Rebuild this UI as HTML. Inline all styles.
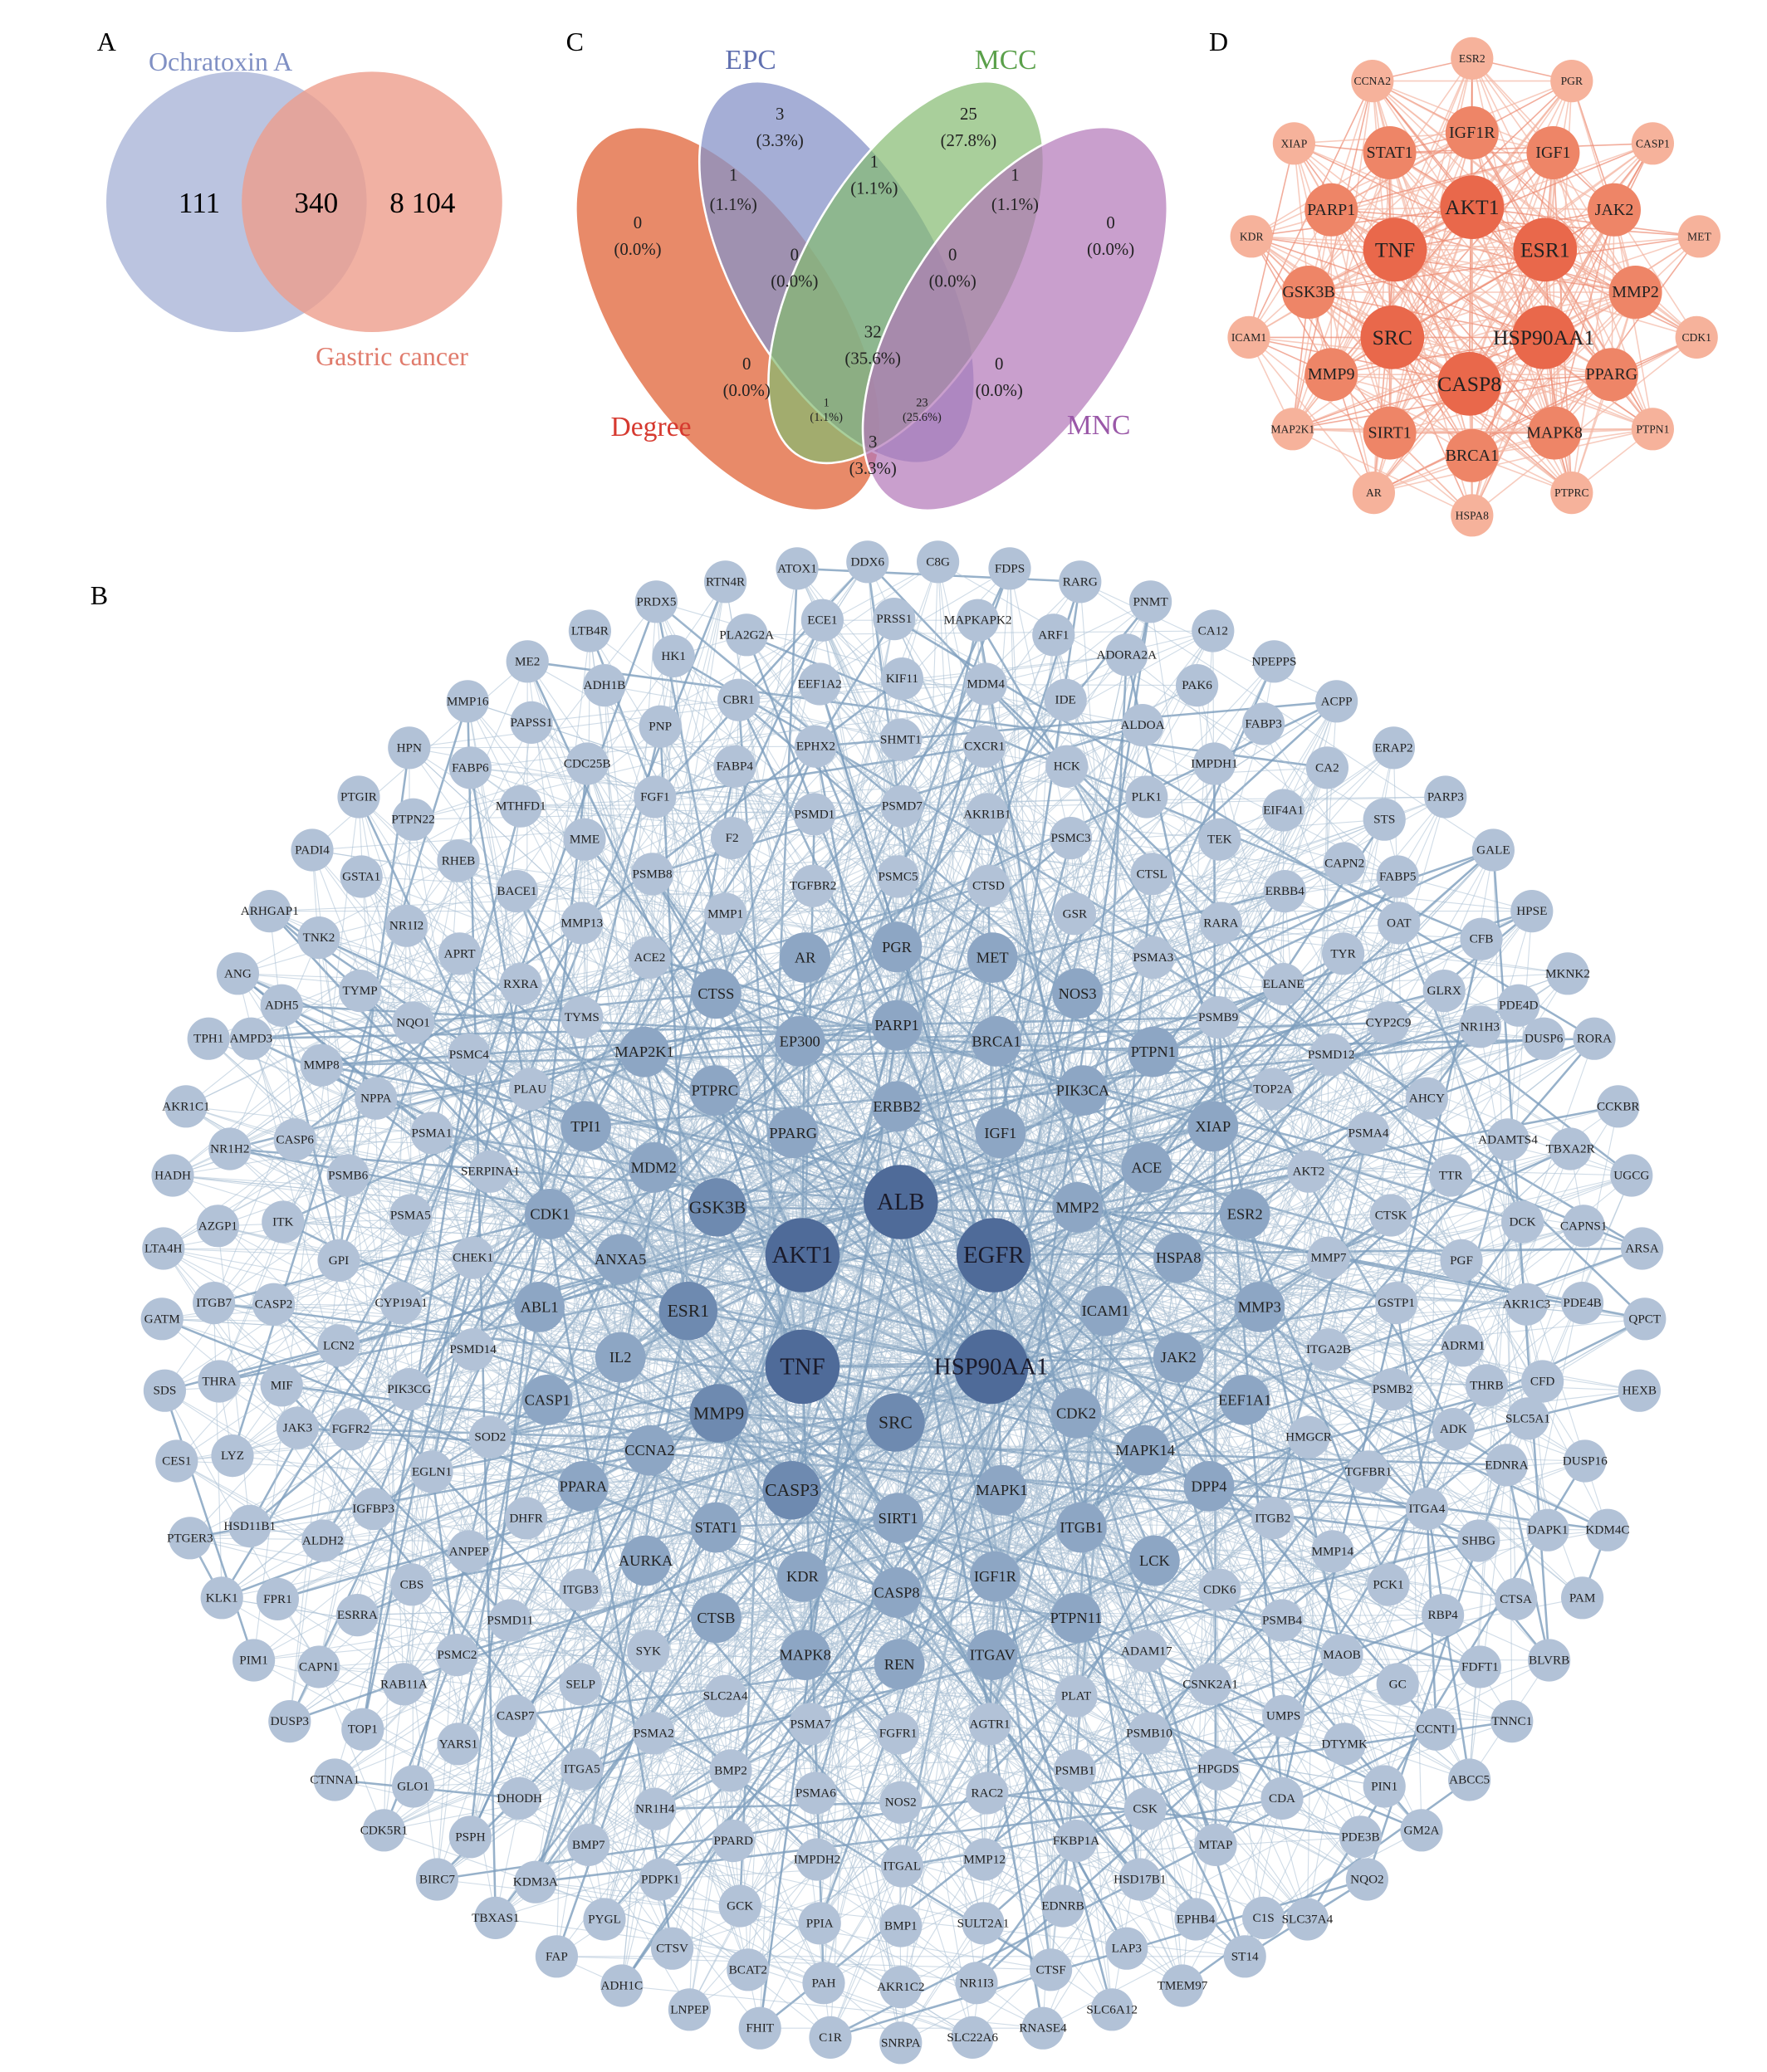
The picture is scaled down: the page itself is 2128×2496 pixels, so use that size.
<!DOCTYPE html>
<html><head><meta charset="utf-8"><style>
html,body{margin:0;padding:0;background:#fff;}
svg{display:block;font-family:"Liberation Serif",serif;}
#labels text,#dlabels text{text-anchor:middle;dominant-baseline:central;fill:#222;}
</style></head><body>
<svg id="svg" width="2128" height="2496" viewBox="0 0 1330 1560" xmlns="http://www.w3.org/2000/svg">
<rect width="1330" height="1560" fill="#fff"/>
<text x="73" y="38" font-size="20">A</text>
<text x="426" y="38" font-size="20">C</text>
<text x="910" y="38" font-size="20">D</text>
<text x="68" y="455" font-size="20">B</text>

<circle cx="178" cy="152" r="98" fill="#b4bedd" opacity="0.9"/>
<circle cx="280" cy="152" r="98" fill="#ee9e8c" opacity="0.8"/>
<text x="166" y="53" font-size="20" fill="#8090c4" text-anchor="middle">Ochratoxin A</text>
<text x="295" y="275" font-size="20" fill="#e07b6c" text-anchor="middle">Gastric cancer</text>
<text x="150" y="160" font-size="22" text-anchor="middle">111</text>
<text x="238" y="160" font-size="22" text-anchor="middle">340</text>
<text x="318" y="160" font-size="22" text-anchor="middle">8 104</text>

<g stroke="#fff" stroke-width="1.6">
<ellipse cx="548" cy="240" rx="82" ry="165" transform="rotate(-34 548 240)" fill="#e4764f" fill-opacity="0.85"/>
<ellipse cx="630" cy="205" rx="76" ry="160" transform="rotate(-30 630 205)" fill="#8793c8" fill-opacity="0.75"/>
<ellipse cx="682" cy="205" rx="76" ry="160" transform="rotate(30 682 205)" fill="#85bb70" fill-opacity="0.7"/>
<ellipse cx="764" cy="240" rx="82" ry="165" transform="rotate(34 764 240)" fill="#b276b8" fill-opacity="0.7"/>
</g>
<g font-size="13" text-anchor="middle" fill="#222">
<text x="565" y="52" font-size="21" fill="#6070b0">EPC</text>
<text x="757" y="52" font-size="21" fill="#5aa04a">MCC</text>
<text x="490" y="328" font-size="21" fill="#d63a30">Degree</text>
<text x="827" y="327" font-size="21" fill="#9a58a8">MNC</text>
<text x="587" y="90">3</text><text x="587" y="110">(3.3%)</text>
<text x="729" y="90">25</text><text x="729" y="110">(27.8%)</text>
<text x="552" y="136">1</text><text x="552" y="158">(1.1%)</text>
<text x="658" y="126">1</text><text x="658" y="146">(1.1%)</text>
<text x="764" y="136">1</text><text x="764" y="158">(1.1%)</text>
<text x="480" y="172">0</text><text x="480" y="192">(0.0%)</text>
<text x="836" y="172">0</text><text x="836" y="192">(0.0%)</text>
<text x="598" y="196">0</text><text x="598" y="216">(0.0%)</text>
<text x="717" y="196">0</text><text x="717" y="216">(0.0%)</text>
<text x="657" y="254">32</text><text x="657" y="274">(35.6%)</text>
<text x="562" y="278">0</text><text x="562" y="298">(0.0%)</text>
<text x="752" y="278">0</text><text x="752" y="298">(0.0%)</text>
<text x="622" y="306" font-size="9">1</text><text x="622" y="317" font-size="9">(1.1%)</text>
<text x="694" y="306" font-size="9">23</text><text x="694" y="317" font-size="9">(25.6%)</text>
<text x="657" y="337">3</text><text x="657" y="357">(3.3%)</text>
</g>

<g id="dedges"></g>
<g id="dnodes"></g>
<g id="dlabels">
<text x="1108" y="44">ESR2</text><text x="1033" y="61">CCNA2</text><text x="1183" y="61">PGR</text>
<text x="974" y="108">XIAP</text><text x="1108" y="100" class="m">IGF1R</text><text x="1046" y="115" class="m">STAT1</text>
<text x="1169" y="115" class="m">IGF1</text><text x="1244" y="108">CASP1</text><text x="1002" y="158" class="m">PARP1</text>
<text x="1108" y="156" class="b">AKT1</text><text x="1215" y="158" class="m">JAK2</text><text x="942" y="178">KDR</text>
<text x="1050" y="188" class="b">TNF</text><text x="1163" y="188" class="b">ESR1</text><text x="1279" y="178">MET</text>
<text x="985" y="220" class="m">GSK3B</text><text x="1231" y="220" class="m">MMP2</text><text x="940" y="254">ICAM1</text>
<text x="1048" y="254" class="b">SRC</text><text x="1162" y="254" class="b">HSP90AA1</text><text x="1277" y="254">CDK1</text>
<text x="1002" y="282" class="m">MMP9</text><text x="1106" y="289" class="b">CASP8</text><text x="1213" y="282" class="m">PPARG</text>
<text x="973" y="323">MAP2K1</text><text x="1046" y="326" class="m">SIRT1</text><text x="1170" y="326" class="m">MAPK8</text>
<text x="1244" y="323">PTPN1</text><text x="1108" y="343" class="m">BRCA1</text><text x="1034" y="371">AR</text>
<text x="1183" y="371">PTPRC</text><text x="1108" y="388">HSPA8</text>
</g>

<g id="edges"></g>
<g id="nodes"></g>
<g id="labels">
<text x="600" y="428">ATOX1</text><text x="653" y="423">DDX6</text><text x="706" y="423">C8G</text><text x="760" y="428">FDPS</text>
<text x="546" y="438">RTN4R</text><text x="813" y="438">RARG</text><text x="494" y="453">PRDX5</text><text x="866" y="453">PNMT</text>
<text x="619" y="467">ECE1</text><text x="673" y="466">PRSS1</text><text x="736" y="467">MAPKAPK2</text>
<text x="444" y="475">LTB4R</text><text x="562" y="478">PLA2G2A</text><text x="793" y="478">ARF1</text><text x="913" y="475">CA12</text>
<text x="848" y="493">ADORA2A</text><text x="397" y="498">ME2</text><text x="507" y="494">HK1</text><text x="455" y="516">ADH1B</text><text x="959" y="498">NPEPPS</text>
<text x="617" y="515">EEF1A2</text><text x="679" y="511">KIF11</text><text x="742" y="515">MDM4</text><text x="901" y="516">PAK6</text>
<text x="352" y="528">MMP16</text><text x="400" y="544">PAPSS1</text><text x="556" y="527">CBR1</text><text x="802" y="527">IDE</text><text x="1006" y="528">ACPP</text>
<text x="951" y="545">FABP3</text><text x="860" y="546">ALDOA</text><text x="497" y="547">PNP</text><text x="614" y="562">EPHX2</text><text x="678" y="557">SHMT1</text><text x="741" y="562">CXCR1</text>
<text x="308" y="563">HPN</text><text x="354" y="578">FABP6</text><text x="442" y="575">CDC25B</text><text x="553" y="577">FABP4</text><text x="803" y="577">HCK</text><text x="914" y="575">IMPDH1</text><text x="999" y="578">CA2</text><text x="1049" y="563">ERAP2</text>
<text x="270" y="600">PTGIR</text><text x="311" y="617">PTPN22</text><text x="392" y="607">MTHFD1</text><text x="493" y="600">FGF1</text><text x="613" y="613">PSMD1</text><text x="679" y="607">PSMD7</text><text x="743" y="613">AKR1B1</text><text x="863" y="600">PLK1</text><text x="966" y="610">EIF4A1</text><text x="1042" y="617">STS</text><text x="1088" y="600">PARP3</text>
<text x="235" y="640">PADI4</text><text x="345" y="648">RHEB</text><text x="440" y="632">MME</text><text x="551" y="631">F2</text><text x="491" y="658">PSMB8</text><text x="806" y="631">PSMC3</text><text x="918" y="632">TEK</text><text x="1012" y="650">CAPN2</text><text x="1124" y="640">GALE</text>
<text x="272" y="660">GSTA1</text><text x="676" y="660">PSMC5</text><text x="612" y="667">TGFBR2</text><text x="744" y="667">CTSD</text><text x="867" y="658">CTSL</text><text x="1052" y="660">FABP5</text>
<text x="203" y="686">ARHGAP1</text><text x="389" y="671">BACE1</text><text x="967" y="671">ERBB4</text><text x="1153" y="686">HPSE</text>
<text x="240" y="706">TNK2</text><text x="306" y="697">NR1I2</text><text x="546" y="688">MMP1</text><text x="809" y="688">GSR</text><text x="919" y="695">RARA</text><text x="1053" y="695">OAT</text><text x="1115" y="707">CFB</text><text x="438" y="695">MMP13</text>
<text x="179" y="733">ANG</text><text x="346" y="718">APRT</text><text x="489" y="721">ACE2</text><text x="606" y="721">AR</text><text x="675" y="713">PGR</text><text x="747" y="721">MET</text><text x="868" y="721">PSMA3</text><text x="1011" y="718">TYR</text><text x="1180" y="733">MKNK2</text>
<text x="212" y="757">ADH5</text><text x="271" y="746">TYMP</text><text x="392" y="741">RXRA</text><text x="539" y="748">CTSS</text><text x="811" y="748">NOS3</text><text x="966" y="741">ELANE</text><text x="1087" y="746">GLRX</text><text x="1143" y="757">PDE4D</text>
<text x="157" y="782">TPH1</text><text x="311" y="770">NQO1</text><text x="438" y="766">TYMS</text><text x="675" y="772">PARP1</text><text x="917" y="766">PSMB9</text><text x="1200" y="782">RORA</text>
<text x="189" y="782">AMPD3</text><text x="242" y="802">MMP8</text><text x="353" y="794">PSMC4</text><text x="485" y="792">MAP2K1</text><text x="602" y="784">EP300</text><text x="750" y="784">BRCA1</text><text x="868" y="792">PTPN1</text><text x="1045" y="770">CYP2C9</text><text x="1114" y="773">NR1H3</text><text x="1002" y="794">PSMD12</text><text x="1162" y="782">DUSP6</text>
<text x="140" y="833">AKR1C1</text><text x="283" y="827">NPPA</text><text x="399" y="820">PLAU</text><text x="538" y="821">PTPRC</text><text x="815" y="821">PIK3CA</text><text x="958" y="820">TOP2A</text><text x="1074" y="827">AHCY</text>
<text x="173" y="865">NR1H2</text><text x="222" y="858">CASP6</text><text x="325" y="853">PSMA1</text><text x="441" y="848">TPI1</text><text x="597" y="853">PPARG</text><text x="675" y="833">ERBB2</text><text x="753" y="853">IGF1</text><text x="913" y="848">XIAP</text><text x="1030" y="853">PSMA4</text><text x="1135" y="858">ADAMTS4</text><text x="1218" y="833">CCKBR</text><text x="1182" y="865">TBXA2R</text>
<text x="130" y="885">HADH</text><text x="262" y="885">PSMB6</text><text x="369" y="882">SERPINA1</text><text x="492" y="879">MDM2</text><text x="863" y="879">ACE</text><text x="985" y="882">AKT2</text><text x="1092" y="885">TTR</text><text x="1228" y="885">UGCG</text>
<text x="164" y="923">AZGP1</text><text x="213" y="920">ITK</text><text x="309" y="915">PSMA5</text><text x="414" y="914">CDK1</text><text x="540" y="909" class="m">GSK3B</text><text x="678" y="905" class="b">ALB</text><text x="811" y="909">MMP2</text><text x="937" y="914">ESR2</text><text x="1047" y="915">CTSK</text><text x="1146" y="920">DCK</text><text x="1192" y="923">CAPNS1</text>
<text x="123" y="940">LTA4H</text><text x="255" y="949">GPI</text><text x="356" y="947">CHEK1</text><text x="467" y="948">ANXA5</text><text x="604" y="945" class="b">AKT1</text><text x="748" y="945" class="b">EGFR</text><text x="887" y="947">HSPA8</text><text x="1000" y="947">MMP7</text><text x="1236" y="940">ARSA</text><text x="1100" y="949">PGF</text>
<text x="161" y="981">ITGB7</text><text x="206" y="982">CASP2</text><text x="122" y="993">GATM</text><text x="302" y="981">CYP19A1</text><text x="406" y="984">ABL1</text><text x="518" y="987" class="m">ESR1</text><text x="832" y="987">ICAM1</text><text x="948" y="984">MMP3</text><text x="1051" y="981">GSTP1</text><text x="1149" y="982">AKR1C3</text><text x="1191" y="981">PDE4B</text><text x="1238" y="993">QPCT</text>
<text x="255" y="1013">LCN2</text><text x="356" y="1016">PSMD14</text><text x="467" y="1022">IL2</text><text x="604" y="1029" class="b">TNF</text><text x="746" y="1029" class="b">HSP90AA1</text><text x="887" y="1022">JAK2</text><text x="1000" y="1016">ITGA2B</text><text x="1101" y="1013">ADRM1</text>
<text x="124" y="1047">SDS</text><text x="165" y="1040">THRA</text><text x="212" y="1043">MIF</text><text x="308" y="1046">PIK3CG</text><text x="412" y="1054">CASP1</text><text x="541" y="1064" class="m">MMP9</text><text x="674" y="1071" class="m">SRC</text><text x="810" y="1064">CDK2</text><text x="937" y="1054">EEF1A1</text><text x="1048" y="1046">PSMB2</text><text x="1119" y="1043">THRB</text><text x="1161" y="1040">CFD</text><text x="1234" y="1047">HEXB</text>
<text x="264" y="1076">FGFR2</text><text x="224" y="1075">JAK3</text><text x="369" y="1082">SOD2</text><text x="489" y="1092">CCNA2</text><text x="862" y="1092">MAPK14</text><text x="985" y="1082">HMGCR</text><text x="1094" y="1076">ADK</text><text x="1150" y="1068">SLC5A1</text>
<text x="133" y="1100">CES1</text><text x="175" y="1096">LYZ</text><text x="325" y="1108">EGLN1</text><text x="1030" y="1108">TGFBR1</text><text x="1134" y="1103">EDNRA</text><text x="1193" y="1100">DUSP16</text>
<text x="281" y="1136">IGFBP3</text><text x="439" y="1119">PPARA</text><text x="596" y="1122" class="m">CASP3</text><text x="754" y="1122">MAPK1</text><text x="910" y="1119">DPP4</text><text x="1074" y="1136">ITGA4</text>
<text x="143" y="1158">PTGER3</text><text x="188" y="1149">HSD11B1</text><text x="243" y="1160">ALDH2</text><text x="396" y="1143">DHFR</text><text x="539" y="1150">STAT1</text><text x="676" y="1143">SIRT1</text><text x="814" y="1150">ITGB1</text><text x="958" y="1143">ITGB2</text><text x="1165" y="1152">DAPK1</text><text x="1210" y="1152">KDM4C</text><text x="1113" y="1160">SHBG</text>
<text x="353" y="1168">ANPEP</text><text x="486" y="1175">AURKA</text><text x="604" y="1187">KDR</text><text x="869" y="1175">LCK</text><text x="1003" y="1168">MMP14</text>
<text x="167" y="1203">KLK1</text><text x="209" y="1204">FPR1</text><text x="310" y="1193">CBS</text><text x="437" y="1197">ITGB3</text><text x="675" y="1199">CASP8</text><text x="749" y="1187">IGF1R</text><text x="918" y="1197">CDK6</text><text x="1045" y="1193">PCK1</text><text x="1141" y="1204">CTSA</text><text x="1191" y="1203">PAM</text>
<text x="269" y="1216">ESRRA</text><text x="384" y="1220">PSMD11</text><text x="539" y="1218">CTSB</text><text x="810" y="1218">PTPN11</text><text x="965" y="1220">PSMB4</text><text x="1086" y="1216">RBP4</text>
<text x="191" y="1250">PIM1</text><text x="240" y="1255">CAPN1</text><text x="344" y="1246">PSMC2</text><text x="488" y="1243">SYK</text><text x="606" y="1246">MAPK8</text><text x="677" y="1253">REN</text><text x="747" y="1246">ITGAV</text><text x="863" y="1243">ADAM17</text><text x="1010" y="1246">MAOB</text><text x="1114" y="1255">FDFT1</text><text x="1166" y="1250">BLVRB</text>
<text x="304" y="1268">RAB11A</text><text x="437" y="1268">SELP</text><text x="546" y="1277">SLC2A4</text><text x="810" y="1277">PLAT</text><text x="911" y="1268">CSNK2A1</text><text x="1052" y="1268">GC</text>
<text x="218" y="1296">DUSP3</text><text x="273" y="1302">TOP1</text><text x="388" y="1292">CASP7</text><text x="610" y="1298">PSMA7</text><text x="676" y="1305">FGFR1</text><text x="745" y="1298">AGTR1</text><text x="966" y="1292">UMPS</text><text x="1081" y="1302">CCNT1</text><text x="1138" y="1296">TNNC1</text>
<text x="345" y="1313">YARS1</text><text x="492" y="1305">PSMA2</text><text x="865" y="1305">PSMB10</text><text x="809" y="1333">PSMB1</text><text x="1012" y="1313">DTYMK</text>
<text x="252" y="1340">CTNNA1</text><text x="438" y="1332">ITGA5</text><text x="550" y="1333">BMP2</text><text x="917" y="1332">HPGDS</text><text x="1106" y="1340">ABCC5</text>
<text x="311" y="1345">GLO1</text><text x="614" y="1350">PSMA6</text><text x="743" y="1350">RAC2</text><text x="1042" y="1345">PIN1</text>
<text x="391" y="1354">DHODH</text><text x="493" y="1362">NR1H4</text><text x="678" y="1357">NOS2</text><text x="862" y="1362">CSK</text><text x="965" y="1354">CDA</text>
<text x="289" y="1378">CDK5R1</text><text x="1070" y="1378">GM2A</text>
<text x="354" y="1383">PSPH</text><text x="443" y="1389">BMP7</text><text x="552" y="1386">PPARD</text><text x="810" y="1386">FKBP1A</text><text x="915" y="1389">MTAP</text><text x="1024" y="1383">PDE3B</text>
<text x="329" y="1415">BIRC7</text><text x="403" y="1417">KDM3A</text><text x="497" y="1415">PDPK1</text><text x="615" y="1400">IMPDH2</text><text x="679" y="1405">ITGAL</text><text x="741" y="1400">MMP12</text><text x="858" y="1415">HSD17B1</text><text x="1029" y="1415">NQO2</text>
<text x="373" y="1444">TBXAS1</text><text x="455" y="1445">PYGL</text><text x="557" y="1435">GCK</text><text x="617" y="1448">PPIA</text><text x="678" y="1450">BMP1</text><text x="740" y="1448">SULT2A1</text><text x="800" y="1435">EDNRB</text><text x="900" y="1445">EPHB4</text><text x="951" y="1444">C1S</text><text x="984" y="1445">SLC37A4</text>
<text x="419" y="1473">FAP</text><text x="506" y="1467">CTSV</text><text x="848" y="1467">LAP3</text><text x="937" y="1473">ST14</text>
<text x="468" y="1495">ADH1C</text><text x="563" y="1483">BCAT2</text><text x="620" y="1493">PAH</text><text x="678" y="1496">AKR1C2</text><text x="735" y="1493">NR1I3</text><text x="791" y="1483">CTSF</text><text x="890" y="1495">TMEM97</text>
<text x="519" y="1513">LNPEP</text><text x="837" y="1513">SLC6A12</text>
<text x="572" y="1527">FHIT</text><text x="625" y="1534">C1R</text><text x="678" y="1538">SNRPA</text><text x="732" y="1534">SLC22A6</text><text x="785" y="1527">RNASE4</text>
</g>
</svg>
<script>
(function(){
var NS="http://www.w3.org/2000/svg";
var seed=12345;function rnd(){seed=(seed*16807)%2147483647;return seed/2147483647;}
function mk(tag,attrs,parent){var e=document.createElementNS(NS,tag);for(var k in attrs)e.setAttribute(k,attrs[k]);parent.appendChild(e);return e;}
var texts=[].slice.call(document.querySelectorAll('#labels text'));
var R=[28,22,19,16],C=['#4f6b99','#6e8ab0','#8da6c4','#b2c2d7'],F=[18,13.5,11.5,9.5],W=[14,5,2.5,1],K=[40,18,9,5];
var N=texts.map(function(t){var x=+t.getAttribute('x'),y=+t.getAttribute('y');var d=Math.hypot(x-676,y-985);
var tier=d<150?1:d<290?2:3;var c=t.getAttribute('class');if(c=='b')tier=0;if(c=='m')tier=1;return {x:x,y:y,tier:tier,t:t};});
var eg=document.getElementById('edges'),ng=document.getElementById('nodes');
var tot=0;N.forEach(function(n){tot+=W[n.tier];});
function pick(){var r=rnd()*tot;for(var i=0;i<N.length;i++){r-=W[N[i].tier];if(r<=0)return N[i];}return N[0];}
var s='';
N.forEach(function(a){for(var k=0;k<K[a.tier];k++){var b=pick();if(b===a)continue;
var th=rnd()<0.15;s+='<line x1="'+a.x+'" y1="'+a.y+'" x2="'+b.x+'" y2="'+b.y+'" stroke="'+(th?'#7d9dbd':'#a9bfd4')+'" stroke-width="'+(th?1.6:0.7)+'" stroke-opacity="'+(th?0.8:0.55)+'"/>';}});
eg.innerHTML=s;
N.forEach(function(n){mk('circle',{cx:n.x,cy:n.y,r:R[n.tier],fill:C[n.tier]},ng);
n.t.setAttribute('font-size',F[n.tier]);if(n.tier==0)n.t.style.fill='#1a1a2a';});
var dt=[].slice.call(document.querySelectorAll('#dlabels text'));
var DR=[24,20,16],DC=['#e9684b','#ee8567','#f6b29b'],DF=[16,12.5,8.5];
var D=dt.map(function(t){var c=t.getAttribute('class');return {x:+t.getAttribute('x'),y:+t.getAttribute('y'),tier:c=='b'?0:c=='m'?1:2,t:t};});
var s2='';
for(var i=0;i<D.length;i++)for(var j=i+1;j<D.length;j++){var p=0.25+0.3*(2-D[i].tier)+0.3*(2-D[j].tier);if(rnd()<p){
s2+='<line x1="'+D[i].x+'" y1="'+D[i].y+'" x2="'+D[j].x+'" y2="'+D[j].y+'" stroke="'+(rnd()<0.3?'#ec8a72':'#f4b6a4')+'" stroke-width="1" stroke-opacity="0.7"/>';}}
document.getElementById('dedges').innerHTML=s2;
var dn=document.getElementById('dnodes');
D.forEach(function(n){mk('circle',{cx:n.x,cy:n.y,r:DR[n.tier],fill:DC[n.tier]},dn);n.t.setAttribute('font-size',DF[n.tier]);});
})();
</script>
</body></html>
